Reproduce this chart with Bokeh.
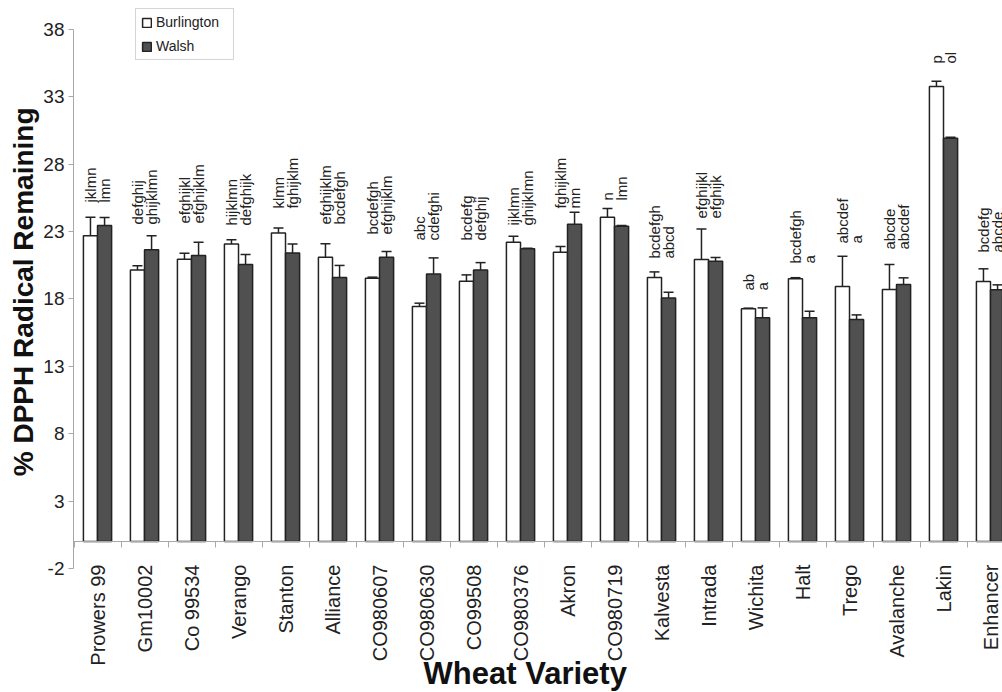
import numpy as np
from math import pi
from bokeh.plotting import figure
from bokeh.models import (ColumnDataSource, Range1d, LinearAxis, FixedTicker,
                          Whisker, TeeHead, Legend, LegendItem, Title, Label)
from bokeh.transform import dodge
from bokeh.core.properties import value
from bokeh.embed import file_html
from bokeh.resources import INLINE

# ---------------- data ----------------
categories = ["Prowers 99", "Gm10002", "Co 99534", "Verango", "Stanton", "Alliance",
              "CO980607", "CO980630", "CO99508", "CO980376", "Akron", "CO980719",
              "Kalvesta", "Intrada", "Wichita", "Halt", "Trego", "Avalanche",
              "Lakin", "Enhancer"]
burlington = [22.70, 20.16, 20.95, 22.09, 22.90, 21.10, 19.54, 17.44, 19.32, 22.21,
              21.47, 24.07, 19.59, 20.93, 17.27, 19.50, 18.92, 18.70, 33.77, 19.30]
burlington_err = [1.37, 0.30, 0.45, 0.30, 0.37, 1.00, 0.08, 0.25, 0.47, 0.45,
                  0.42, 0.64, 0.42, 2.27, 0.05, 0.08, 2.25, 1.86, 0.39, 0.94]
walsh = [23.45, 21.65, 21.22, 20.56, 21.42, 19.59, 21.10, 19.86, 20.16, 21.72,
         23.55, 23.40, 18.08, 20.80, 16.60, 16.60, 16.47, 19.07, 29.93, 18.68]
walsh_err = [0.60, 1.05, 1.00, 0.74, 0.67, 0.90, 0.42, 1.19, 0.54, 0.05,
             0.89, 0.05, 0.42, 0.28, 0.74, 0.49, 0.35, 0.50, 0.07, 0.37]
burlington_letters = ["jklmn", "defghij", "efghijkl", "hijklmn", "klmn", "efghijklm",
                      "bcdefgh", "abc", "bcdefg", "ijklmn", "fghijklm", "n", "bcdefgh",
                      "efghijkl", "ab", "bcdefgh", "abcdef", "abcde", "p", "bcdefg"]
walsh_letters = ["lmn", "ghijklmn", "efghijklm", "defghijk", "fghijklm", "bcdefgh",
                 "efghijklm", "cdefghi", "defghij", "ghijklmn", "mn", "lmn", "abcd",
                 "efghijk", "a", "a", "a", "abcdef", "ol", "abcde"]
letter_anchor = [25.16, 23.53, 23.60, 23.45, 24.71, 23.53, 22.78, 22.34, 22.34, 23.45,
                 24.71, 25.31, 21.00, 23.97, 18.63, 20.63, 22.12, 21.67, 35.47, 21.45]
y_ticks = [-2, 3, 8, 13, 18, 23, 28, 33, 38]

# ---------------- source ----------------
idx = list(range(len(categories)))
src = ColumnDataSource(dict(
    x=idx,
    b=burlington,
    b_up=[v + e for v, e in zip(burlington, burlington_err)],
    w=walsh,
    w_up=[v + e for v, e in zip(walsh, walsh_err)],
    bl=burlington_letters,
    wl=walsh_letters,
    ly=letter_anchor,
))

FONT = "Liberation Sans"
AXIS_GRAY = "#a8a8a8"
DARK = "#505050"
EDGE = "#222222"

# The frame spans the full figure height so that the category labels,
# the legend and the x title (all drawn inside it) are not clipped.
p = figure(width=1002, height=692, output_backend="svg", toolbar_location=None,
           x_range=Range1d(-0.511, 19.255), y_range=Range1d(-11.20, 40.15),
           x_axis_location=None,
           min_border_left=73, min_border_right=0, min_border_top=0,
           min_border_bottom=0)
p.outline_line_color = None
p.grid.grid_line_color = None
p.background_fill_color = "white"

# bars
r_b = p.vbar(x=dodge("x", -0.15, range=p.x_range), top="b", bottom=0, width=0.3,
             source=src, fill_color="white", line_color=EDGE, line_width=1.5)
r_w = p.vbar(x=dodge("x", 0.15, range=p.x_range), top="w", bottom=0, width=0.3,
             source=src, fill_color=DARK, line_color=EDGE, line_width=1.5)

# error bars (upper only)
for base_off, low, up in [(-0.15, "b", "b_up"), (0.15, "w", "w_up")]:
    wk = Whisker(source=src, base=dodge("x", base_off, range=p.x_range),
                 lower=low, upper=up, dimension="height",
                 upper_head=TeeHead(size=10, line_color=EDGE, line_width=1.5),
                 lower_head=None, line_color=EDGE, line_width=1.5)
    p.add_layout(wk)

# letter labels
for off, col in [(-0.15, "bl"), (0.15, "wl")]:
    p.text(x=dodge("x", off, range=p.x_range), y="ly", text=col, source=src,
           angle=pi / 2, text_align="left", text_baseline="middle",
           text_font=value(FONT), text_font_size="15px", text_color="#222222")

# y axis
ya = p.yaxis[0]
ya.ticker = FixedTicker(ticks=y_ticks)
ya.bounds = (-2, 38)
ya.axis_label = None
ya.major_label_overrides = {t: str(t) for t in y_ticks}
ya.major_label_text_font = FONT
ya.major_label_text_font_size = "19px"
ya.major_label_text_color = "#222222"
ya.major_label_standoff = 4
ya.axis_line_color = AXIS_GRAY
ya.major_tick_line_color = AXIS_GRAY
ya.major_tick_out = 5
ya.major_tick_in = 0
ya.minor_tick_line_color = None

# y title as a left-side title, anchored from the top
p.add_layout(Title(text="% DPPH Radical Remaining", align="right", offset=107,
                   standoff=4, text_font=FONT, text_font_size="28px",
                   text_font_style="bold", text_color="#111111"), "left")

# category axis drawn at y = 0
xa = LinearAxis(
    ticker=FixedTicker(ticks=idx, minor_ticks=[i + 0.5 for i in range(-1, len(idx))]),
    fixed_location=0,
    major_label_overrides={i: c for i, c in zip(idx, categories)},
    major_label_orientation=pi / 2,
    major_label_text_font=FONT, major_label_text_font_size="20px",
    major_label_text_color="#222222", major_label_standoff=17,
    major_tick_out=0, major_tick_in=0, major_tick_line_color=None,
    minor_tick_out=6, minor_tick_in=0, minor_tick_line_color=AXIS_GRAY,
    axis_line_color=AXIS_GRAY)
p.add_layout(xa, "below")

# x title
p.add_layout(Label(x=9.10, y=-9.82, text="Wheat Variety", text_align="center",
                   text_baseline="alphabetic", text_font=FONT,
                   text_font_size="31px", text_font_style="bold",
                   text_color="#111111"))

# legend
legend = Legend(items=[LegendItem(label="Burlington", renderers=[r_b]),
                       LegendItem(label="Walsh", renderers=[r_w])],
                location=(62, 632), orientation="vertical",
                label_text_font=FONT, label_text_font_size="14px",
                label_text_color="#222222", glyph_width=11, glyph_height=11,
                label_height=15, label_width=72, label_standoff=4, spacing=8,
                padding=5, margin=0, border_line_color="#aaaaaa",
                border_line_width=1, background_fill_color="white",
                background_fill_alpha=1)
p.add_layout(legend, "center")

open("out.html", "w").write(file_html(p, INLINE))
